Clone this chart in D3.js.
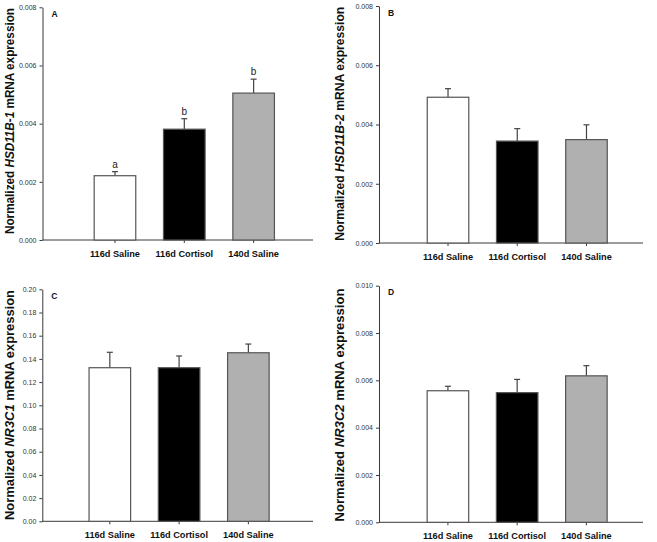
<!DOCTYPE html>
<html>
<head>
<meta charset="utf-8">
<script src="https://cdn.jsdelivr.net/npm/d3@7"></script>
<style>
  html, body { margin: 0; padding: 0; background: #fff; }
  svg { display: block; font-family: Arial, "Liberation Sans", sans-serif; }
</style>
</head>
<body>
<svg id="chart" width="657" height="542"></svg>
<script>
// ---- data ----
const categories = ["116d Saline", "116d Cortisol", "140d Saline"];
const barColors = ["#ffffff", "#000000", "#b0b0b0"];

const hsd1Mean = [0.00221, 0.00381, 0.00505];
const hsd1Err  = [0.00014, 0.00036, 0.00048];
const hsd1Letters = ["a", "b", "b"];

const hsd2Mean = [0.00492, 0.00344, 0.00349];
const hsd2Err  = [0.00029, 0.00042, 0.00050];

const nr3c1Mean = [0.1324, 0.1324, 0.1453];
const nr3c1Err  = [0.0133, 0.0101, 0.0075];

const nr3c2Mean = [0.00556, 0.00548, 0.00619];
const nr3c2Err  = [0.00019, 0.00056, 0.00043];

const ticksA = [0, 0.002, 0.004, 0.006, 0.008];
const ticksB = [0, 0.002, 0.004, 0.006, 0.008];
const ticksC = [0, 0.02, 0.04, 0.06, 0.08, 0.10, 0.12, 0.14, 0.16, 0.18, 0.20];
const ticksD = [0, 0.002, 0.004, 0.006, 0.008, 0.010];

// ---- layout per panel ----
const panels = [
  { letter: "A", gene: "HSD11B-1", mean: hsd1Mean, err: hsd1Err, sig: hsd1Letters,
    ticks: ticksA, fmt: ".3f", max: 0.008,
    axisX: 42.5, xEnd: 313, yTop: 7.3, yBot: 240, band: [80.3, 288.3],
    titleX: 14, titleY: 121, titleLen: 226 },
  { letter: "B", gene: "HSD11B-2", mean: hsd2Mean, err: hsd2Err, sig: null,
    ticks: ticksB, fmt: ".3f", max: 0.008,
    axisX: 379, xEnd: 643, yTop: 6, yBot: 243, band: [413.4, 621.1],
    titleX: 344, titleY: 123.7, titleLen: 234 },
  { letter: "C", gene: "NR3C1", mean: nr3c1Mean, err: nr3c1Err, sig: null,
    ticks: ticksC, fmt: ".2f", max: 0.20,
    axisX: 42.3, xEnd: 313, yTop: 289.3, yBot: 521.3, band: [75.2, 283],
    titleX: 14, titleY: 405, titleLen: 230 },
  { letter: "D", gene: "NR3C2", mean: nr3c2Mean, err: nr3c2Err, sig: null,
    ticks: ticksD, fmt: ".3f", max: 0.010,
    axisX: 379, xEnd: 643, yTop: 285.7, yBot: 522.3, band: [413.3, 621],
    titleX: 344, titleY: 405, titleLen: 233 }
];

const svg = d3.select("#chart");
const axisColor = "#3a3a3a";

panels.forEach(p => {
  const g = svg.append("g");
  const y = d3.scaleLinear().domain([0, p.max]).range([p.yBot, p.yTop]);
  const x = d3.scaleBand().domain(categories).range(p.band)
    .paddingInner(0.4).paddingOuter(0.2);

  // y axis
  const yAxis = d3.axisLeft(y).tickValues(p.ticks).tickFormat(d3.format(p.fmt))
    .tickSize(3).tickPadding(3).tickSizeOuter(0);
  const ya = g.append("g").attr("transform", `translate(${p.axisX},0)`).call(yAxis);
  ya.select(".domain").attr("stroke", axisColor);
  ya.selectAll(".tick line").attr("stroke", axisColor);
  ya.selectAll(".tick text").attr("font-size", 7).attr("fill", "#333")
    .attr("font-family", "Arial, 'Liberation Sans', sans-serif");

  // x axis line
  const xLine = d3.scaleLinear().domain([0, 1]).range([p.axisX, p.xEnd]);
  g.append("line")
    .attr("x1", xLine(0)).attr("x2", xLine(1))
    .attr("y1", y(0)).attr("y2", y(0))
    .attr("stroke", axisColor).attr("stroke-width", 1);

  // category ticks
  g.selectAll(".ctick").data(categories).join("line")
    .attr("x1", d => x(d) + x.bandwidth() / 2).attr("x2", d => x(d) + x.bandwidth() / 2)
    .attr("y1", y(0)).attr("y2", y(0) + 3)
    .attr("stroke", axisColor);

  // category labels
  g.selectAll(".clabel").data(categories).join("text")
    .attr("x", d => x(d) + x.bandwidth() / 2)
    .attr("y", y(0) + 17)
    .attr("text-anchor", "middle")
    .attr("font-size", 9.2).attr("font-weight", "bold").attr("fill", "#111")
    .text(d => d);

  // error bars (upper only)
  g.selectAll(".err").data(categories).join("line")
    .attr("x1", d => x(d) + x.bandwidth() / 2).attr("x2", d => x(d) + x.bandwidth() / 2)
    .attr("y1", (d, i) => y(p.mean[i])).attr("y2", (d, i) => y(p.mean[i] + p.err[i]))
    .attr("stroke", "#444").attr("stroke-width", 1.2);
  g.selectAll(".cap").data(categories).join("line")
    .attr("x1", d => x(d) + x.bandwidth() / 2 - 3).attr("x2", d => x(d) + x.bandwidth() / 2 + 3)
    .attr("y1", (d, i) => y(p.mean[i] + p.err[i])).attr("y2", (d, i) => y(p.mean[i] + p.err[i]))
    .attr("stroke", "#444").attr("stroke-width", 1.2);

  // bars
  g.selectAll(".bar").data(categories).join("rect")
    .attr("x", d => x(d)).attr("width", x.bandwidth())
    .attr("y", (d, i) => y(p.mean[i]))
    .attr("height", (d, i) => y(0) - y(p.mean[i]))
    .attr("fill", (d, i) => barColors[i])
    .attr("stroke", "#555").attr("stroke-width", 1.2);

  // significance letters
  if (p.sig) {
    g.selectAll(".sig").data(categories).join("text")
      .attr("x", d => x(d) + x.bandwidth() / 2)
      .attr("y", (d, i) => y(p.mean[i] + p.err[i]) - 4)
      .attr("text-anchor", "middle")
      .attr("font-size", 10).attr("fill", "#222")
      .text((d, i) => p.sig[i]);
  }

  // panel letter
  g.append("text")
    .attr("x", p.axisX + 9).attr("y", p.yTop + 9.5)
    .attr("font-size", 8.5).attr("font-weight", "bold").attr("fill", "#111")
    .text(p.letter);

  // y title
  const t = g.append("text")
    .attr("transform", `translate(${p.titleX},${p.titleY}) rotate(-90)`)
    .attr("text-anchor", "middle")
    .attr("font-size", 12.2).attr("font-weight", "bold").attr("fill", "#111")
    .attr("textLength", p.titleLen).attr("lengthAdjust", "spacingAndGlyphs");
  t.append("tspan").text("Normalized ");
  t.append("tspan").attr("font-style", "italic").text(p.gene);
  t.append("tspan").text(" mRNA expression");
});
</script>
</body>
</html>
